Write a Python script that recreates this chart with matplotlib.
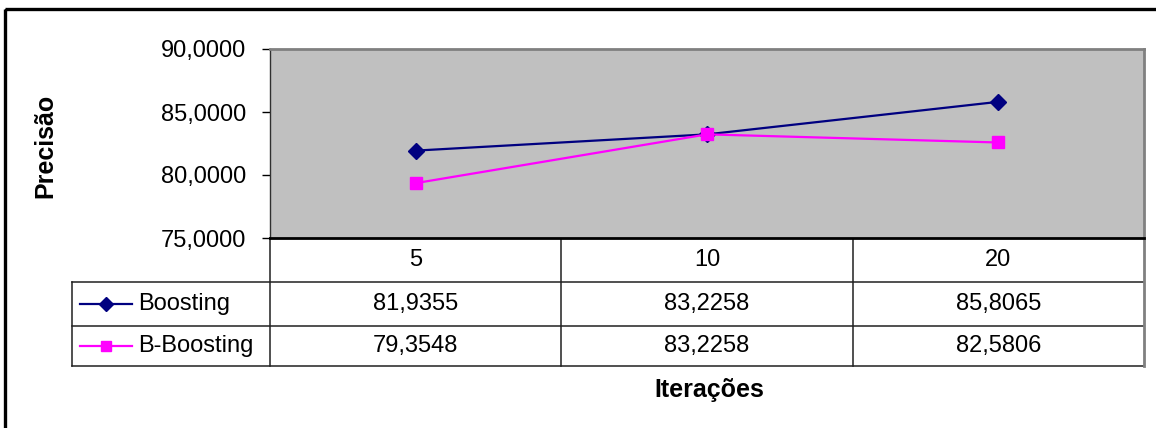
import matplotlib
matplotlib.use("Agg")
import matplotlib.pyplot as plt
from matplotlib import transforms
from matplotlib.lines import Line2D
from matplotlib.patches import Rectangle
from matplotlib.ticker import FuncFormatter

plt.rcParams['font.family'] = ['Liberation Sans', 'DejaVu Sans']

# Data
iteracoes = ["5", "10", "20"]
series_names = ["Boosting", "B-Boosting"]
boosting = [81.9355, 83.2258, 85.8065]
b_boosting = [79.3548, 83.2258, 82.5806]
y_ticks = [75, 80, 85, 90]

colors = ["#000080", "#FF00FF"]
markers = ["D", "s"]
msizes = [8, 8]
values = [boosting, b_boosting]

FS = 17

W, H = 1156, 428
fig = plt.figure(figsize=(W / 100, H / 100), dpi=100)

# Pixel-space overlay for the frame, table and titles
ov = fig.add_axes([0, 0, 1, 1], zorder=0)
ov.set_xlim(0, W)
ov.set_ylim(H, 0)
ov.axis("off")

# Plot area
L, R, T, B = 270, 1144, 49, 238
ax = fig.add_axes([L / W, 1 - B / H, (R - L) / W, (B - T) / H], zorder=2)
ax.set_facecolor("#C0C0C0")
n = len(iteracoes)
xs = [i + 0.5 for i in range(n)]
ax.set_xlim(0, n)
ax.set_ylim(y_ticks[0], y_ticks[-1])
for v, c, m, ms in zip(values, colors, markers, msizes):
    ax.plot(xs, v, color=c, lw=1.6, marker=m, markersize=ms,
            markeredgecolor=c, markerfacecolor=c, clip_on=False)

ax.set_xticks([])
ax.set_yticks(y_ticks)
ax.yaxis.set_major_formatter(FuncFormatter(lambda v, p: f"{v:.4f}".replace(".", ",")))
ax.tick_params(axis="y", length=6, width=1, pad=11, labelsize=FS, colors="black")
for side in ("top", "right"):
    ax.spines[side].set_color("#808080")
    ax.spines[side].set_linewidth(2)
ax.spines["left"].set_color("#303030")
ax.spines["left"].set_linewidth(1)
ax.spines["bottom"].set_color("black")
ax.spines["bottom"].set_linewidth(2)

# Outer chart frame (extends past right and bottom edges)
ov.add_patch(Rectangle((5, 9), W + 20, H + 20, fill=False, ec="black", lw=2.4))

# Data table beneath the plot, columns aligned with the categories
tr = transforms.blended_transform_factory(ax.transData, ov.transData)
row_y = [B, 282, 326, 366]
lab_left = 72

line_kw = dict(color="#202020", lw=1.1, clip_on=False)
# horizontal rules
for yy in row_y[1:]:
    ov.add_line(Line2D([lab_left, R], [yy, yy], **line_kw))
# vertical rules
for k in range(n + 1):
    ln = Line2D([k, k], [row_y[0], row_y[3]], transform=tr, **line_kw)
    if k == n:
        ln.set_color("#808080")
        ln.set_linewidth(2)
    ov.add_line(ln)
ov.add_line(Line2D([lab_left, lab_left], [row_y[1], row_y[3]], **line_kw))

# header labels
for x, lab in zip(xs, iteracoes):
    ov.text(x, (row_y[0] + row_y[1]) / 2, lab, transform=tr, ha="center",
            va="center", fontsize=FS)

# value rows with legend keys
for r, (name, v, c, m, ms) in enumerate(zip(series_names, values, colors, markers, msizes)):
    yc = (row_y[r + 1] + row_y[r + 2]) / 2
    ov.add_line(Line2D([80, 132], [yc, yc], color=c, lw=1.6))
    ov.plot([106], [yc], marker=m, color=c, markersize=ms - 1, markeredgecolor=c)
    ov.text(138, yc, name, ha="left", va="center", fontsize=FS)
    for x, val in zip(xs, v):
        ov.text(x, yc, f"{val:.4f}".replace(".", ","), transform=tr,
                ha="center", va="center", fontsize=FS)

# axis titles
ov.text(709, 390, "Iterações", ha="center", va="center", fontsize=18,
        fontweight="bold")
ov.text(45, 146, "Precisão", ha="center", va="center", rotation=90,
        fontsize=18, fontweight="bold")

fig.savefig("out.png", dpi=100, facecolor="white")
